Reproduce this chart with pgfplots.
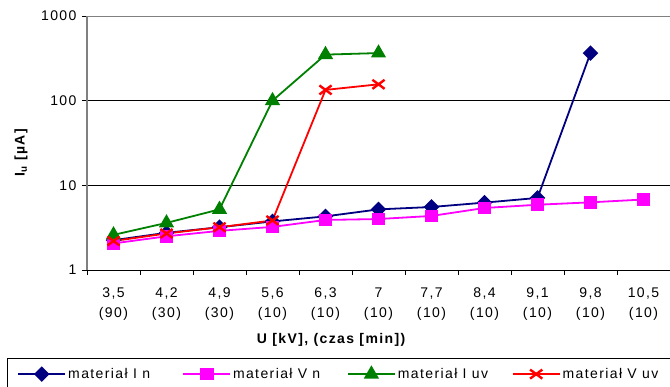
\documentclass[border=0pt]{standalone}
\usepackage{pgfplots}
\pgfplotsset{compat=1.18}
\usepackage{fontspec}
\setmainfont{Liberation Sans}[LetterSpace=10]
\definecolor{navy}{RGB}{0,0,128}
\definecolor{mag}{RGB}{255,0,255}
\definecolor{grn}{RGB}{0,128,0}
\definecolor{rd}{RGB}{255,0,0}
\definecolor{axgray}{RGB}{128,128,128}
\newcommand{\lf}{\fontsize{14pt}{20pt}\selectfont}
\begin{document}
\begin{tikzpicture}
\begin{axis}[
  scale only axis, width=583pt, height=254pt,
  xmin=-0.5, xmax=10.5,
  ymode=log, ymin=1, ymax=1000,
  axis lines*=left,
  axis line style={-},
  x axis line style={black, line width=1pt},
  y axis line style={axgray, line width=1.6pt},
  tick align=outside,
  major tick length=5pt, minor tick length=5pt,
  tick style={black, line width=0.8pt},
  xtick={0,...,10},
  major x tick style={draw=none},
  minor xtick={-0.5,0.5,...,10.5},
  xticklabels={{3,5\\(90)},{4,2\\(30)},{4,9\\(30)},{5,6\\(10)},{6,3\\(10)},{7\\(10)},{7,7\\(10)},{8,4\\(10)},{9,1\\(10)},{9,8\\(10)},{10,5\\(10)}},
  xticklabel style={align=center, font=\lf, yshift=-9pt},
  ytick={1,10,100,1000},
  yticklabels={1,10,100,1000},
  yminorticks=false,
  yticklabel style={font=\lf, xshift=-2pt},
  /pgf/number format/assume math mode=true,
  ymajorgrids,
  grid style={black, line width=0.8pt},
  xlabel={\textbf{U [kV], (czas [min])}},
  xlabel style={font=\lf, at={(axis description cs:0.42,-0.2756)}, anchor=center},
  ylabel={\textbf{I\textsubscript{u} [µA]}},
  ylabel style={font=\lf, at={(axis description cs:-0.1132,0.465)}, anchor=center, rotate=0},
  legend columns=4,
  legend style={at={(axis description cs:-0.1372,-0.346)}, anchor=north west,
    draw=black, line width=0.8pt, inner xsep=10pt, inner ysep=8pt, font=\lf,
    /tikz/every even column/.append style={column sep=0pt}},
  legend image code/.code={\draw[mark repeat=2,mark phase=2] plot coordinates {(0pt,0pt)(23.5pt,0pt)(47pt,0pt)};},
]
\addplot[color=navy, line width=1.8pt, mark=square*, mark size=4.6pt, mark options={rotate=45, solid}]
  coordinates {(0,2.25)(1,2.75)(2,3.2)(3,3.75)(4,4.3)(5,5.2)(6,5.55)(7,6.25)(8,7.1)(9,365)};
\addlegendentry{\makebox[112pt][l]{materiał I n}}
\addplot[color=mag, line width=1.8pt, mark=square*, mark size=6pt, mark options={solid, yscale=0.9}]
  coordinates {(0,2.06)(1,2.5)(2,2.9)(3,3.23)(4,3.9)(5,4.0)(6,4.35)(7,5.4)(8,5.9)(9,6.3)(10,6.8)};
\addlegendentry{\makebox[112pt][l]{materiał V n}}
\addplot[color=grn, line width=1.8pt, mark=triangle*, mark size=7pt, mark options={solid}]
  coordinates {(0,2.6)(1,3.6)(2,5.2)(3,100)(4,350)(5,365)};
\addlegendentry{\makebox[112pt][l]{materiał I uv}}
\addplot[color=rd, line width=1.8pt, mark=x, mark size=7.5pt, mark options={solid, line width=2.4pt, xscale=1.15, yscale=0.85}]
  coordinates {(0,2.2)(1,2.7)(2,3.2)(3,3.85)(4,134)(5,156)};
\addlegendentry{\makebox[112pt][l]{materiał V uv}}
\draw[axgray, line width=1.6pt] (rel axis cs:0,1) -- (rel axis cs:1,1);
\end{axis}
\pgfresetboundingbox
\path[use as bounding box] (-87pt,-116pt) rectangle (583pt,270pt);
\end{tikzpicture}
\end{document}
